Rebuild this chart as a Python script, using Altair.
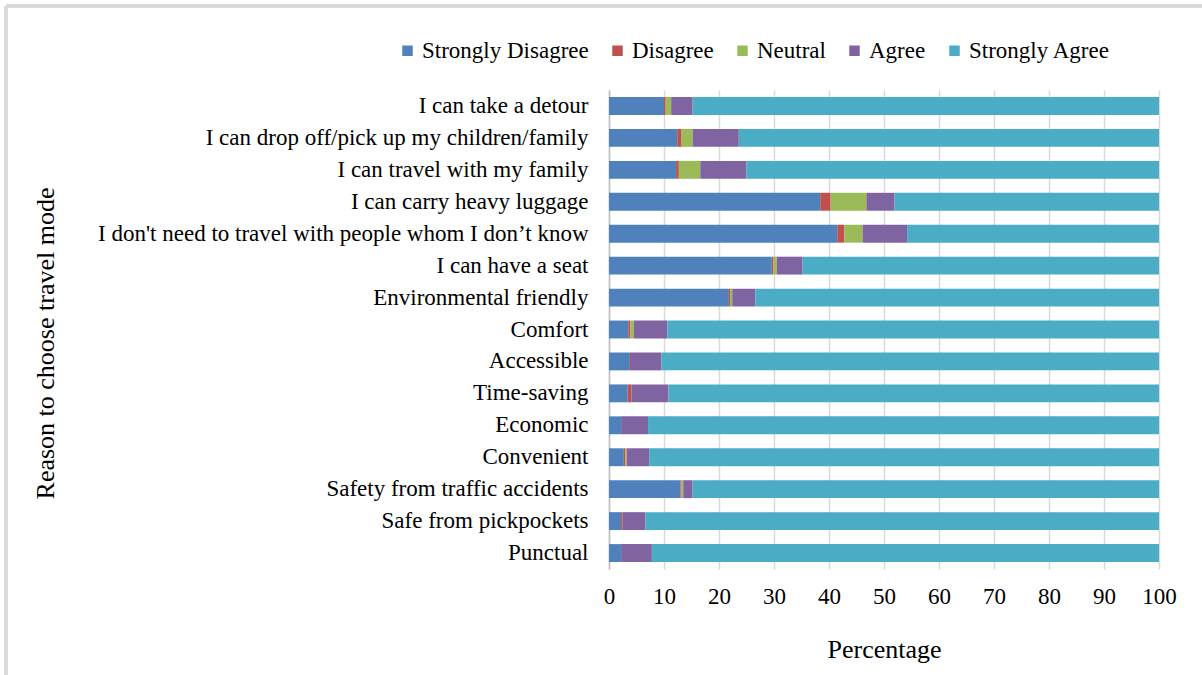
import altair as alt
import pandas as pd

reasons = [
    "I can take a detour",
    "I can drop off/pick up my children/family",
    "I can travel with my family",
    "I can carry heavy luggage ",
    "I don't need to travel with people whom I don’t know",
    "I can have a seat ",
    "Environmental friendly",
    "Comfort",
    "Accessible",
    "Time-saving",
    "Economic",
    "Convenient",
    "Safety from traffic accidents",
    "Safe from pickpockets",
    "Punctual",
]

levels = ["Strongly Disagree", "Disagree", "Neutral", "Agree", "Strongly Agree"]
colors = ["#4F81BD", "#C0504D", "#9BBB59", "#8064A2", "#4BACC6"]

strongly_disagree = [10.0, 12.4, 12.2, 38.4, 41.5, 29.6, 21.8, 3.5, 3.8, 3.4, 2.2, 2.7, 13.0, 2.2, 2.2]
disagree = [0.3, 0.8, 0.5, 1.9, 1.3, 0.3, 0.2, 0.4, 0.2, 0.7, 0.0, 0.3, 0.2, 0.3, 0.0]
neutral = [1.0, 2.0, 3.9, 6.5, 3.3, 0.6, 0.4, 0.6, 0.0, 0.0, 0.0, 0.2, 0.3, 0.0, 0.0]
agree = [3.9, 8.4, 8.4, 5.1, 8.1, 4.7, 4.2, 6.1, 5.5, 6.7, 4.9, 4.1, 1.7, 4.1, 5.6]
strongly_agree = [84.8, 76.4, 75.0, 48.1, 45.8, 64.8, 73.4, 89.4, 90.5, 89.2, 92.9, 92.7, 84.8, 93.4, 92.2]

series = [strongly_disagree, disagree, neutral, agree, strongly_agree]
rows = []
for k, (lvl, vals) in enumerate(zip(levels, series)):
    for r, v in zip(reasons, vals):
        rows.append({"reason": r, "level": lvl, "order": k, "pct": v})
df = pd.DataFrame(rows)

FONT = "Liberation Serif"
LABEL_SIZE = 23
TITLE_SIZE = 26

bars = alt.Chart(df).mark_bar().encode(
    y=alt.Y(
        "reason:N",
        sort=reasons,
        scale=alt.Scale(paddingInner=0.44, paddingOuter=0.22),
        axis=alt.Axis(
            title="Reason to choose travel mode",
            titleFont=FONT,
            titleFontSize=TITLE_SIZE,
            titleFontWeight="normal",
            titleColor="#000000",
            titleX=-564,
            titleY=253,
            titleAngle=-90,
            titleAlign="center",
            titleBaseline="middle",
            labelFont=FONT,
            labelFontSize=LABEL_SIZE,
            labelColor="#000000",
            labelPadding=21,
            labelLimit=700,
            ticks=False,
            domainColor="#bfbfbf",
            domainWidth=1.5,
            grid=False,
        ),
    ),
    x=alt.X(
        "sum(pct):Q",
        scale=alt.Scale(domain=[0, 100], nice=False),
        stack="zero",
        axis=alt.Axis(
            title="Percentage",
            titleFont=FONT,
            titleFontSize=TITLE_SIZE,
            titleFontWeight="normal",
            titleColor="#000000",
            titleY=80,
            titleBaseline="middle",
            values=list(range(0, 101, 10)),
            labelFont=FONT,
            labelFontSize=LABEL_SIZE,
            labelColor="#000000",
            labelPadding=16,
            labelFlush=False,
            ticks=False,
            domain=False,
            grid=True,
            gridColor="#d9d9d9",
            gridWidth=1.5,
        ),
    ),
    color=alt.Color(
        "level:N",
        sort=levels,
        scale=alt.Scale(domain=levels, range=colors),
        legend=alt.Legend(
            title=None,
            orient="none",
            direction="horizontal",
            legendX=-213,
            legendY=-51,
            symbolType="square",
            symbolSize=110,
            symbolStrokeWidth=0,
            labelFont=FONT,
            labelFontSize=LABEL_SIZE,
            labelColor="#000000",
            labelLimit=400,
            labelOffset=3,
            columnPadding=17,
        ),
    ),
    order=alt.Order("order:Q"),
)

# light grey frame around the whole figure
frame_left = alt.Chart(df).mark_rule(color="#d9d9d9", strokeWidth=2.5).encode(
    x=alt.value(-603), y=alt.value(-84), y2=alt.value(600)
)
frame_top = alt.Chart(df).mark_rule(color="#d9d9d9", strokeWidth=2.5).encode(
    x=alt.value(-603), x2=alt.value(620), y=alt.value(-84)
)

chart = (
    alt.layer(frame_left, frame_top, bars)
    .properties(
        width=550,
        height=479,
        autosize=alt.AutoSizeParams(type="none"),
        padding={"left": 609, "top": 90, "right": 43, "bottom": 106},
        background="#ffffff",
    )
    .configure_view(stroke=None)
)

chart.save("out.html", embed_options={"renderer": "svg", "actions": False})
